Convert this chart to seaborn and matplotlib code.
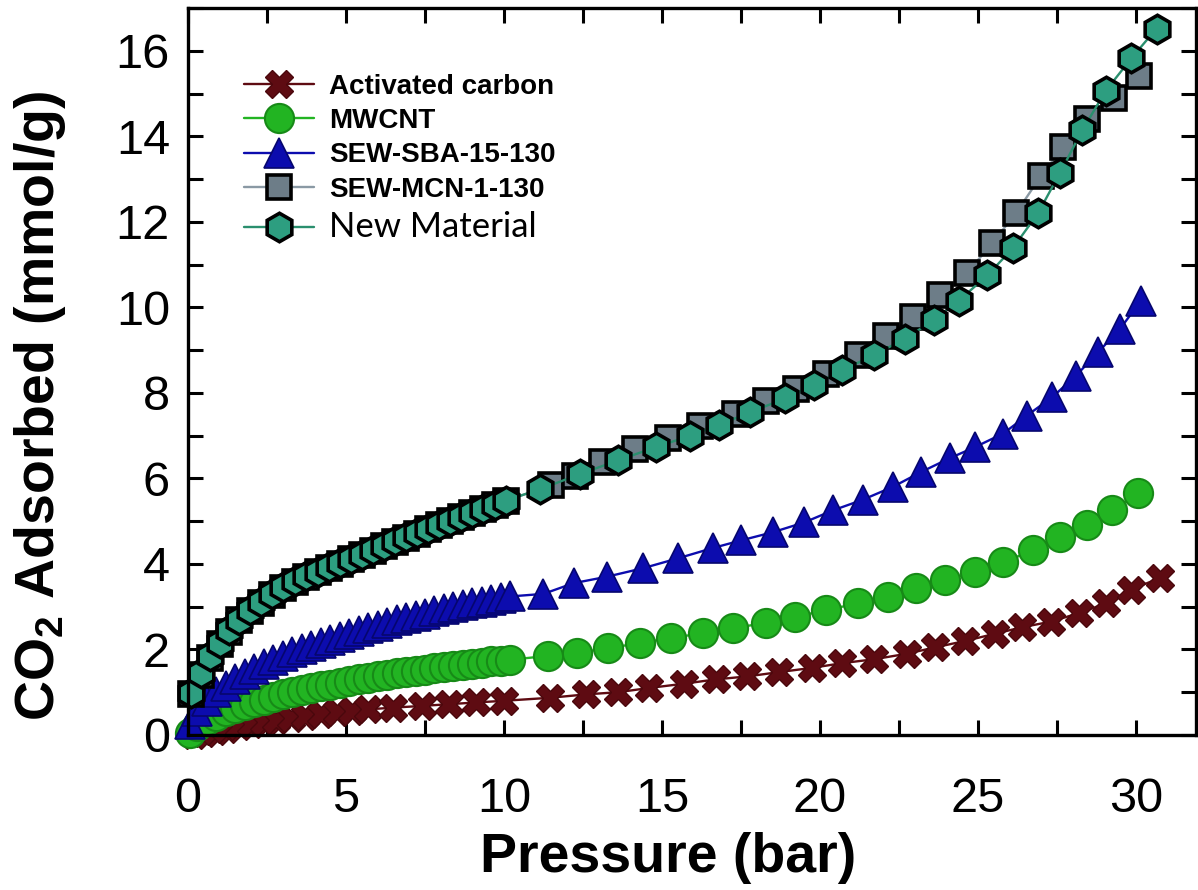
import numpy as np
import pandas as pd
import seaborn as sns
import matplotlib.pyplot as plt
from matplotlib.ticker import MultipleLocator

# -------------------------------------------------------------------
# Data (pressure in bar, uptake in mmol/g)
# -------------------------------------------------------------------
ac_p = [0.2, 0.5, 0.85, 1.2, 1.6, 2.0, 2.4, 2.8, 3.25, 3.7, 4.2, 4.7, 5.2, 5.7,
        6.5, 7.4, 8.25, 9.1, 10.0, 11.45, 12.6, 13.6, 14.6, 15.7, 16.7, 17.7,
        18.7, 19.75, 20.7, 21.7, 22.75, 23.65, 24.6, 25.55, 26.4, 27.3, 28.2,
        29.05, 29.85, 30.75]
ac_q = [0.0, 0.05, 0.1, 0.15, 0.2, 0.26, 0.3, 0.35, 0.4, 0.45, 0.49, 0.53, 0.56,
        0.6, 0.64, 0.68, 0.72, 0.76, 0.8, 0.87, 0.95, 1.0, 1.1, 1.2, 1.3, 1.37,
        1.47, 1.57, 1.68, 1.77, 1.9, 2.05, 2.2, 2.37, 2.52, 2.65, 2.85, 3.08,
        3.4, 3.67]

mwcnt_p = [0.05, 0.3, 0.6, 0.9, 1.2, 1.5, 1.8, 2.1, 2.4, 2.7, 3.0, 3.3, 3.6, 3.9,
           4.2, 4.5, 4.8, 5.1, 5.4, 5.7, 6.0, 6.3, 6.6, 6.9, 7.2, 7.5, 7.8, 8.1,
           8.4, 8.7, 9.0, 9.3, 9.6, 9.9, 10.2, 11.4, 12.3, 13.3, 14.3, 15.3,
           16.3, 17.25, 18.3, 19.2, 20.2, 21.2, 22.15, 23.05, 23.95, 24.9, 25.8,
           26.75, 27.6, 28.45, 29.25, 30.05]
mwcnt_q = [0.05, 0.2, 0.35, 0.45, 0.55, 0.63, 0.7, 0.77, 0.83, 0.89, 0.95, 1.0,
           1.05, 1.1, 1.14, 1.18, 1.22, 1.26, 1.3, 1.34, 1.37, 1.41, 1.44, 1.47,
           1.5, 1.53, 1.56, 1.59, 1.62, 1.64, 1.67, 1.69, 1.72, 1.74, 1.76, 1.85,
           1.92, 2.03, 2.15, 2.27, 2.38, 2.5, 2.62, 2.76, 2.92, 3.08, 3.23, 3.43,
           3.62, 3.8, 4.04, 4.32, 4.63, 4.9, 5.25, 5.65]

sba_p = [0.05, 0.3, 0.6, 0.9, 1.2, 1.5, 1.8, 2.1, 2.4, 2.7, 3.0, 3.3, 3.6, 3.9,
         4.2, 4.5, 4.8, 5.1, 5.4, 5.7, 6.0, 6.3, 6.6, 6.9, 7.2, 7.5, 7.8, 8.1,
         8.4, 8.7, 9.0, 9.3, 9.6, 9.9, 10.2, 11.25, 12.2, 13.25, 14.4, 15.5,
         16.6, 17.5, 18.5, 19.5, 20.4, 21.35, 22.3, 23.2, 24.1, 24.9, 25.8,
         26.55, 27.35, 28.1, 28.8, 29.5, 30.15]
sba_q = [0.25, 0.55, 0.8, 1.0, 1.15, 1.3, 1.42, 1.55, 1.65, 1.75, 1.85, 1.93,
         2.0, 2.08, 2.15, 2.22, 2.3, 2.37, 2.43, 2.5, 2.56, 2.62, 2.68, 2.73,
         2.78, 2.84, 2.89, 2.94, 2.99, 3.04, 3.08, 3.12, 3.16, 3.2, 3.24, 3.3,
         3.55, 3.7, 3.9, 4.13, 4.37, 4.55, 4.74, 4.97, 5.25, 5.5, 5.8, 6.15,
         6.47, 6.73, 7.05, 7.47, 7.9, 8.4, 8.95, 9.5, 10.15]

mcn_p = [0.1, 0.4, 0.7, 1.0, 1.3, 1.6, 1.95, 2.3, 2.65, 3.0, 3.4, 3.75, 4.1,
         4.45, 4.8, 5.15, 5.5, 5.85, 6.2, 6.55, 6.9, 7.25, 7.6, 7.95, 8.3, 8.65,
         9.0, 9.35, 9.7, 10.05, 11.5, 12.25, 13.1, 14.15, 15.2, 16.2, 17.3,
         18.3, 19.25, 20.2, 21.2, 22.1, 22.95, 23.8, 24.65, 25.45, 26.2, 27.0,
         27.7, 28.45, 29.3, 30.1]
mcn_q = [0.95, 1.4, 1.8, 2.12, 2.42, 2.68, 2.9, 3.08, 3.28, 3.44, 3.58, 3.7,
         3.81, 3.91, 4.01, 4.11, 4.21, 4.31, 4.41, 4.51, 4.61, 4.71, 4.81, 4.91,
         5.0, 5.09, 5.19, 5.28, 5.37, 5.47, 5.85, 6.05, 6.38, 6.68, 6.95, 7.22,
         7.5, 7.8, 8.1, 8.45, 8.88, 9.32, 9.77, 10.28, 10.8, 11.5, 12.2, 13.08,
         13.75, 14.4, 14.9, 15.4]

new_p = [0.1, 0.4, 0.7, 1.0, 1.3, 1.6, 1.95, 2.3, 2.65, 3.0, 3.4, 3.75, 4.1,
         4.45, 4.8, 5.15, 5.5, 5.85, 6.2, 6.55, 6.9, 7.25, 7.6, 7.95, 8.3, 8.65,
         9.0, 9.35, 9.7, 10.05, 11.15, 12.4, 13.6, 14.8, 15.9, 16.8, 17.8, 18.9,
         19.8, 20.7, 21.7, 22.7, 23.6, 24.4, 25.3, 26.1, 26.9, 27.6, 28.3,
         29.05, 29.85, 30.65]
new_q = [0.98, 1.45, 1.85, 2.15, 2.45, 2.7, 2.92, 3.1, 3.3, 3.45, 3.6, 3.72,
         3.82, 3.92, 4.02, 4.12, 4.22, 4.33, 4.43, 4.53, 4.63, 4.72, 4.82, 4.92,
         5.01, 5.1, 5.2, 5.29, 5.38, 5.48, 5.75, 6.1, 6.42, 6.73, 7.0, 7.25,
         7.55, 7.87, 8.18, 8.53, 8.88, 9.27, 9.7, 10.16, 10.75, 11.38, 12.2,
         13.15, 14.14, 15.07, 15.82, 16.52]

labels = ["Activated carbon", "MWCNT", "SEW-SBA-15-130", "SEW-MCN-1-130",
          "New Material"]

# -------------------------------------------------------------------
# Style
# -------------------------------------------------------------------
sns.set_style("ticks")
plt.rcParams["font.family"] = ["Liberation Sans", "DejaVu Sans"]
plt.rcParams["mathtext.fontset"] = "custom"
plt.rcParams["mathtext.rm"] = "Liberation Sans"
plt.rcParams["mathtext.bf"] = "Liberation Sans:bold"
plt.rcParams["text.color"] = "black"
plt.rcParams["axes.labelcolor"] = "black"
plt.rcParams["xtick.color"] = "black"
plt.rcParams["ytick.color"] = "black"

# marker / colour per series
styles = [
    dict(marker="X", color="#5e0b12", mfc="#5e0b12", mec="#4a070c", ms=20, mew=1.0),
    dict(marker="o", color="#22b422", mfc="#22b422", mec="#178a17", ms=21, mew=1.5),
    dict(marker="^", color="#0c0cae", mfc="#0c0cae", mec="#06066e", ms=21, mew=1.2),
    dict(marker="s", color="#8a99a4", mfc="#6d7d88", mec="black", ms=17.5, mew=2.6),
    dict(marker="h", color="#2a8f6e", mfc="#2d9e80", mec="black", ms=20.5, mew=2.6),
]
series = [(ac_p, ac_q), (mwcnt_p, mwcnt_q), (sba_p, sba_q), (mcn_p, mcn_q),
          (new_p, new_q)]

fig = plt.figure(figsize=(11.98, 8.90), dpi=100)
ax = fig.add_axes([188 / 1198, 1 - 735 / 890, 1008 / 1198, 727 / 890])

for (p, q), lab, st in zip(series, labels, styles):
    df = pd.DataFrame({"p": p, "q": q})
    sns.lineplot(data=df, x="p", y="q", ax=ax, label=lab, linewidth=1.7,
                 clip_on=False, **st)

ax.set_xlim(0, 31.9)
ax.set_ylim(0, 17.0)
ax.xaxis.set_major_locator(MultipleLocator(5))
ax.xaxis.set_minor_locator(MultipleLocator(2.5))
ax.yaxis.set_major_locator(MultipleLocator(2))
ax.yaxis.set_minor_locator(MultipleLocator(1))

for side in ["top", "bottom", "left", "right"]:
    ax.spines[side].set_linewidth(2.4)
    ax.spines[side].set_color("black")

ax.tick_params(which="both", direction="in", top=True, right=True,
               length=11, width=2.2, color="black")
ax.tick_params(axis="x", which="major", labelsize=35, pad=30,
               labelcolor="black")
ax.tick_params(axis="y", which="major", labelsize=35, pad=13,
               labelcolor="black")

ax.set_xlabel("Pressure (bar)", fontsize=40, fontweight="bold", color="black")
ax.set_ylabel(r"CO$_\mathbf{2}$ Adsorbed (mmol/g)", fontsize=40,
              fontweight="bold", color="black")
ax.xaxis.label.set_va("center")
ax.yaxis.label.set_va("center")
ax.xaxis.set_label_coords(0.476, -0.169)
ax.yaxis.set_label_coords(-0.147, 0.4525)

leg = ax.legend(loc="upper left", bbox_to_anchor=(0.045, 0.925), frameon=False,
                handlelength=2.5, handletextpad=0.55, labelspacing=0.3,
                borderaxespad=0.0, prop={"size": 20, "weight": "bold"})
txt = leg.get_texts()[-1]
txt.set_fontfamily(["Lato", "DejaVu Sans"])
txt.set_fontweight("normal")
txt.set_fontsize(25)
for t in leg.get_texts():
    t.set_color("black")

fig.savefig("out.png", dpi=100)
